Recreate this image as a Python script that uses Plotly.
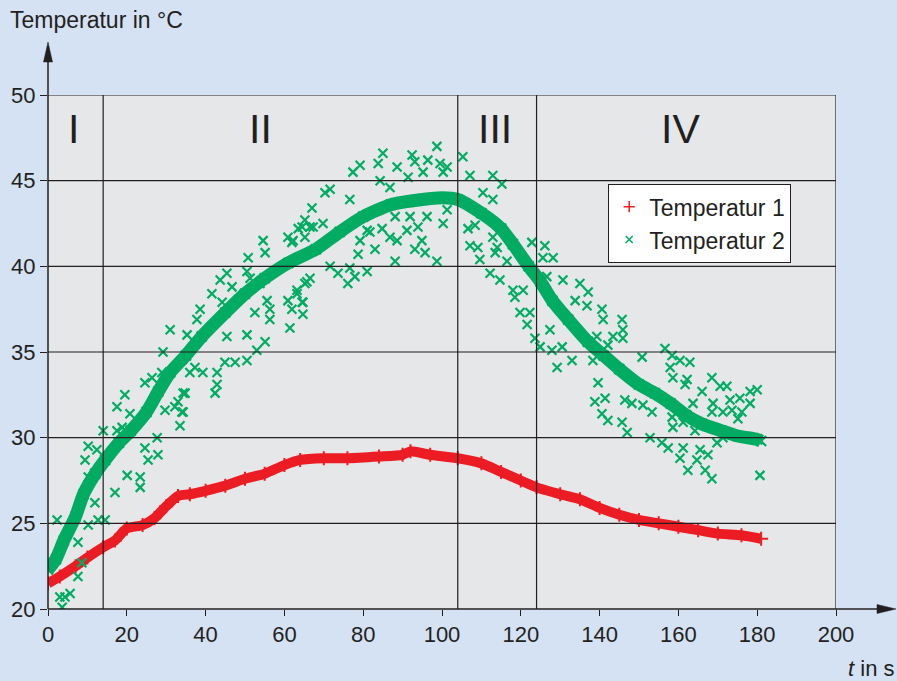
import plotly.graph_objects as go

# ---------------- data ----------------
# Temperatur 1 (red, dense band)
t1_t = [0, 3, 7, 10, 14, 17, 20, 24, 27, 30, 33, 36, 40, 45, 50, 55, 60, 64, 70, 76,
        84, 90, 92, 97, 104, 110, 115, 120, 124, 130, 135, 140, 145, 150, 155, 160,
        165, 170, 176, 181]
t1_T = [21.5, 21.9, 22.5, 23.0, 23.6, 24.0, 24.7, 24.9, 25.3, 26.0, 26.6, 26.7, 26.9,
        27.2, 27.6, 27.9, 28.4, 28.7, 28.8, 28.8, 28.9, 29.0, 29.2, 29.0, 28.8, 28.5,
        28.0, 27.5, 27.1, 26.7, 26.4, 25.9, 25.5, 25.2, 25.0, 24.8, 24.6, 24.4, 24.3,
        24.1]

# Temperatur 2 (green) - main dense band
t2_t = [0, 2, 4, 7, 9, 12, 14.5, 18, 21, 25, 28, 31, 35, 39, 45, 50, 55, 61, 68, 74,
        80, 87, 95, 100, 104, 110, 115, 118, 122, 125, 128, 132, 137, 141, 145, 150,
        154, 158, 162, 166, 171, 175, 180, 181]
t2_T = [22.3, 22.9, 24.0, 25.4, 26.7, 27.9, 28.7, 29.7, 30.4, 31.5, 32.7, 33.8, 34.8,
        35.9, 37.3, 38.4, 39.3, 40.2, 41.0, 42.0, 42.9, 43.6, 43.9, 44.0, 43.9, 43.1,
        42.2, 41.3, 40.0, 39.1, 38.0, 36.9, 35.6, 34.8, 34.0, 33.1, 32.6, 32.0, 31.3,
        30.8, 30.4, 30.1, 29.9, 29.8]

# Temperatur 2 - scattered readings
out_t = [4.3, 5.6, 3.0, 3.6, 7.6, 8.6, 2.3, 7.6, 10.2, 12.7, 14.5, 11.9, 17.0, 23.4, 23.4,
         20.1, 10.2, 9.4, 10.2, 12.4, 14.0, 17.5, 18.8, 17.5, 19.5, 20.8, 24.6, 25.4,
         27.9, 27.7, 24.6, 26.4, 28.9, 29.7, 32.2, 33.5, 34.0, 34.8, 36.0, 29.2,
         31.0, 35.3, 38.6, 37.8, 41.6, 43.7, 45.4, 46.7, 44.2, 45.4, 50.8, 54.6, 55.1,
         50.5, 51.3, 53.8, 55.6, 56.3, 56.3, 52.5, 50.5, 55.1, 53.0, 50.5, 47.5, 44.9,
         42.9, 42.9, 42.4, 39.3, 37.3, 34.3, 33.0, 34.3, 60.9, 61.9, 64.7, 64.7, 61.4,
         63.2, 65.7, 60.9, 61.9, 64.5, 66.5,
         71.6, 70.3, 77.4, 79.2, 76.6, 67.0, 65.2, 63.5, 67.3, 65.2, 62.2, 69.8, 83.8,
         85.0, 88.6, 84.3, 86.8, 92.4, 93.1, 96.4, 98.7, 99.5, 101.3, 91.4, 95.2, 100.3,
         81.0, 84.8, 81.7, 79.2, 86.8, 88.6, 83.0, 78.7, 88.1, 91.1, 93.9, 91.9, 88.1,
         96.2, 94.9, 95.7, 93.1, 98.7, 100.3, 101.3, 71.6, 73.6, 76.6, 77.9, 81.0, 76.1,
         66.5, 65.2, 63.2, 64.5,
         105.3, 107.1, 112.9, 115.2, 110.4, 112.9, 106.6, 108.4, 107.1, 109.1, 109.6,
         112.9, 114.0, 113.5, 116.5, 112.2, 114.7, 118.0, 118.5, 119.8, 122.3, 121.6,
         122.8, 126.1, 125.6, 128.2, 126.6,
         120.6, 123.6, 124.9, 127.4, 127.9, 130.5, 129.2, 133.0, 130.7, 135.0, 137.1,
         133.8, 136.8, 140.6, 140.9, 145.7, 145.9, 143.4, 145.9, 139.3, 142.1, 138.3,
         139.6, 138.8, 141.4, 140.6, 142.1, 145.7, 147.0, 146.4, 148.2, 151.0, 153.3,
         150.8, 156.6, 158.4, 157.9, 160.4, 162.9, 158.6, 162.2, 161.7, 166.0, 168.5,
         170.6, 172.3, 178.2, 180.0, 173.1, 175.6, 178.2, 168.8, 168.5, 171.3, 173.6,
         176.1, 175.1, 163.7, 158.4, 158.6, 161.2, 164.2, 152.8, 155.8, 157.4, 161.2,
         160.4, 162.4, 164.7, 165.5, 166.8, 167.5, 168.5, 169.8, 171.3, 180.7]
out_T = [20.7, 20.9, 20.7, 20.1, 21.9, 22.7, 25.2, 23.9, 24.9, 25.2, 25.2, 26.2, 26.8, 27.1, 27.7,
         27.8, 27.7, 28.7, 29.5, 29.3, 30.4, 30.4, 30.6, 31.8, 32.5, 31.4, 29.4, 28.7,
         29.0, 30.0, 33.2, 33.5, 33.8, 31.6, 31.8, 30.7, 31.5, 32.6, 33.8, 35.0,
         36.3, 36.0, 37.5, 36.9, 38.4, 39.2, 39.6, 38.8, 37.9, 35.9, 40.5, 41.5, 40.8,
         39.7, 39.3, 39.0, 38.0, 37.5, 36.9, 37.3, 36.0, 35.6, 35.1, 34.5, 34.4, 34.4,
         33.8, 33.1, 32.6, 33.8, 34.1, 32.6, 32.1, 31.5, 38.0, 37.5, 37.9, 37.2, 36.4,
         38.6, 39.1, 41.7, 41.4, 42.3, 42.3,
         44.5, 44.3, 45.5, 45.9, 43.9, 43.4, 42.7, 42.2, 42.3, 41.7, 41.5, 42.5, 46.0,
         46.6, 45.8, 45.0, 44.6, 46.5, 46.1, 46.2, 47.0, 46.0, 45.8, 45.2, 45.5, 45.5,
         42.1, 42.2, 42.0, 41.5, 41.7, 41.5, 41.0, 40.7, 40.3, 42.1, 42.3, 42.9, 42.9,
         42.9, 41.5, 40.8, 41.0, 40.3, 42.5, 43.3, 40.0, 39.6, 39.9, 39.4, 39.7, 39.0,
         39.3, 39.0, 38.4, 37.9,
         46.4, 45.3, 45.3, 44.8, 44.3, 43.9, 42.2, 42.4, 41.2, 41.1, 40.4,
         41.7, 41.1, 40.8, 40.3, 39.6, 39.2, 38.6, 38.2, 37.3, 37.3, 36.6,
         41.4, 41.2, 40.5, 40.5, 39.4,
         38.6, 35.8, 35.3, 36.3, 35.1, 35.3, 34.1, 34.5, 39.2, 39.0, 38.5,
         38.0, 37.7, 37.5, 36.9, 36.9, 36.3, 35.9, 35.8, 35.9, 35.4, 34.5,
         33.2, 32.1, 32.3, 31.4, 31.0, 30.9, 30.3, 32.2, 32.0, 31.9, 31.5,
         34.7, 35.2, 34.8, 34.1, 34.5, 34.4, 33.5, 33.4, 33.1, 32.7, 33.5,
         33.0, 33.0, 32.7, 32.8, 32.2, 32.3, 32.0, 32.0, 31.5, 31.5, 31.6,
         31.5, 31.1, 32.0, 31.2, 30.6, 30.9, 30.4, 30.0, 29.7, 29.4, 29.4,
         28.8, 28.1, 28.7, 29.3, 28.1, 29.0, 27.6, 29.7, 30.0, 27.8]

x_ticks = [0, 20, 40, 60, 80, 100, 120, 140, 160, 180, 200]
y_ticks = [20, 25, 30, 35, 40, 45, 50]
phase_bounds = [14, 104, 124]
phase_labels = ["I", "II", "III", "IV"]
phase_label_t = [6.5, 54, 113.5, 160.5]

series_names = ["Temperatur 1", "Temperatur 2"]

# ---------------- style ----------------
RED = "#EC1C24"
GREEN = "#00AC62"
DARK = "#231F20"
PAPER = "#D5E2F4"
PLOT = "#E6E7E9"
FONT = "Liberation Sans, Arial, Helvetica, sans-serif"

W, H = 897, 681
ML, MR, MT, MB = 48, 61, 95, 72
PW, PH = W - ML - MR, H - MT - MB


def px_x(p):
    return (p - ML) / PW


def px_y(p):
    return (H - MB - p) / PH


fig = go.Figure()

# red band
fig.add_trace(go.Scatter(x=t1_t, y=t1_T, mode="lines", line=dict(color=RED, width=10, shape="spline", smoothing=0.6),
                         showlegend=False, hoverinfo="skip"))
fig.add_trace(go.Scatter(x=t1_t, y=t1_T, mode="markers",
                         marker=dict(symbol="cross-thin", size=10, line=dict(color=RED, width=2)),
                         showlegend=False))
# green band
fig.add_trace(go.Scatter(x=t2_t, y=t2_T, mode="lines", line=dict(color=GREEN, width=13, shape="spline", smoothing=0.6),
                         showlegend=False, hoverinfo="skip"))
fig.add_trace(go.Scatter(x=t2_t, y=t2_T, mode="markers",
                         marker=dict(symbol="x-thin", size=10, line=dict(color=GREEN, width=2.2)),
                         showlegend=False))
fig.add_trace(go.Scatter(x=out_t, y=out_T, mode="markers",
                         marker=dict(symbol="x-thin", size=9, line=dict(color=GREEN, width=2.2)),
                         showlegend=False))
# legend entries
fig.add_trace(go.Scatter(x=[None], y=[None], mode="markers", name=series_names[0],
                         marker=dict(symbol="cross-thin", size=8, line=dict(color=RED, width=1.5))))
fig.add_trace(go.Scatter(x=[None], y=[None], mode="markers", name=series_names[1],
                         marker=dict(symbol="x-thin", size=7, line=dict(color=GREEN, width=1.5))))

shapes = []
for yv in y_ticks[1:]:
    shapes.append(dict(type="line", xref="x", yref="y", x0=0, x1=200, y0=yv, y1=yv,
                       line=dict(color=DARK, width=1.2), layer="above"))
for xv in phase_bounds + [200]:
    shapes.append(dict(type="line", xref="x", yref="y", x0=xv, x1=xv, y0=20, y1=50,
                       line=dict(color=DARK, width=1.2), layer="above"))
shapes.append(dict(type="line", xref="paper", yref="paper", x0=0, x1=px_x(880), y0=0, y1=0,
                   line=dict(color=DARK, width=1.5), layer="above"))
shapes.append(dict(type="path", xref="paper", yref="paper",
                   path=f"M {px_x(896)},{px_y(609)} L {px_x(877)},{px_y(604.5)} L {px_x(877)},{px_y(613.5)} Z",
                   fillcolor=DARK, line=dict(color=DARK, width=0.5), layer="above"))
shapes.append(dict(type="line", xref="paper", yref="paper", x0=0, x1=0, y0=0, y1=px_y(58),
                   line=dict(color=DARK, width=1.5), layer="above"))
shapes.append(dict(type="path", xref="paper", yref="paper",
                   path=f"M {px_x(48)},{px_y(42)} L {px_x(43.5)},{px_y(62)} L {px_x(52.5)},{px_y(62)} Z",
                   fillcolor=DARK, line=dict(color=DARK, width=0.5), layer="above"))

annotations = []
for lab, tx in zip(phase_labels, phase_label_t):
    annotations.append(dict(x=tx, y=48.0, xref="x", yref="y", text=lab, showarrow=False,
                            font=dict(family=FONT, size=41, color=DARK)))
annotations.append(dict(x=px_x(8), y=px_y(20), xref="paper", yref="paper", text="Temperatur in °C",
                        showarrow=False, xanchor="left", yanchor="middle",
                        font=dict(family=FONT, size=23, color=DARK)))
annotations.append(dict(x=px_x(896), y=px_y(668), xref="paper", yref="paper", text="<i>t</i> in s",
                        showarrow=False, xanchor="right", yanchor="middle",
                        font=dict(family=FONT, size=22, color=DARK)))

fig.update_layout(
    width=W, height=H,
    margin=dict(l=ML, r=MR, t=MT, b=MB, pad=0),
    paper_bgcolor=PAPER, plot_bgcolor=PLOT,
    font=dict(family=FONT, size=21, color=DARK),
    showlegend=True,
    legend=dict(x=px_x(608), y=px_y(184), xanchor="left", yanchor="top",
                bgcolor="white", bordercolor=DARK, borderwidth=1.2,
                font=dict(family=FONT, size=23, color=DARK), itemwidth=30,
                tracegroupgap=0),
    xaxis=dict(range=[0, 200], tickvals=x_ticks, showgrid=False, zeroline=False, showline=False,
               ticks="outside", ticklen=6, tickwidth=1.2, tickcolor=DARK,
               tickfont=dict(family=FONT, size=22, color=DARK)),
    yaxis=dict(range=[20, 50], tickvals=y_ticks, showgrid=False, zeroline=False, showline=False,
               ticks="outside", ticklen=7, tickwidth=1.2, tickcolor=DARK,
               tickfont=dict(family=FONT, size=22, color=DARK)),
    shapes=shapes, annotations=annotations,
)

fig.write_html("out.html", config={"displayModeBar": False},
               post_script="document.body.style.margin='0';document.body.style.overflow='hidden';")
